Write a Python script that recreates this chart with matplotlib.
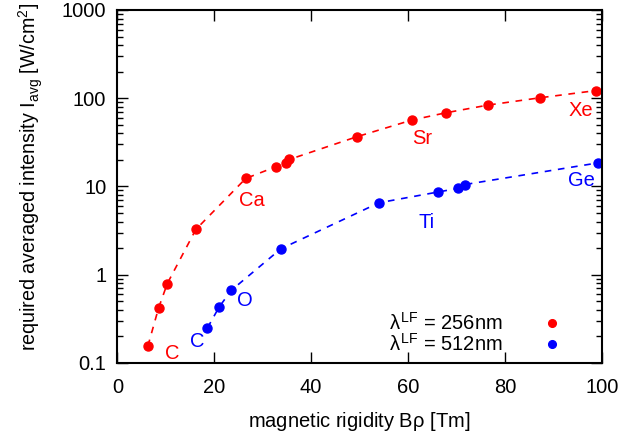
import matplotlib
matplotlib.use("Agg")
import matplotlib.pyplot as plt
from matplotlib.ticker import FixedLocator, LogLocator, NullFormatter

plt.rcParams["font.family"] = ["Liberation Sans", "DejaVu Sans"]
plt.rcParams["mathtext.fontset"] = "custom"
plt.rcParams["mathtext.rm"] = "Liberation Sans"
plt.rcParams["mathtext.it"] = "Liberation Sans"

# lambda_LF = 256 nm
b_256 = [6.3, 8.5, 10.3, 16.2, 26.5, 32.7, 34.8, 35.5, 49.4, 60.8, 67.8, 76.5, 87.2, 98.8]
i_256 = [0.155, 0.417, 0.79, 3.25, 12.3, 16.7, 18.5, 20.2, 36.5, 56.5, 68.3, 83.5, 101, 122]

# lambda_LF = 512 nm
b_512 = [18.6, 21.0, 23.5, 33.75, 54.0, 66.1, 70.3, 71.75, 99.3]
i_512 = [0.249, 0.428, 0.662, 1.96, 6.52, 8.62, 9.49, 10.5, 18.5]

labels_256 = [("C", 11.3, 0.129), ("Ca", 27.8, 7.0), ("Sr", 63.0, 35.3), ("Xe", 95.6, 73.3)]
labels_512 = [("C", 16.4, 0.176), ("O", 26.3, 0.514), ("Ti", 63.9, 3.94), ("Ge", 95.8, 11.8)]

red = "#ff0000"
blue = "#0000ff"
fs = 14.5

fig = plt.figure(figsize=(6.21, 4.34), dpi=100)
ax = fig.add_axes([0.189, 0.164, 0.780, 0.813])

ax.plot(b_256, i_256, color=red, lw=1.2, ls=(0, (4, 4)))
ax.plot(b_512, i_512, color=blue, lw=1.2, ls=(0, (4, 4)))
ax.plot(b_256, i_256, "o", color=red, ms=6.5, label=r"$\lambda^{\rm LF}$ = 256nm")
ax.plot(b_512, i_512, "o", color=blue, ms=6.5, label=r"$\lambda^{\rm LF}$ = 512nm")

for name, x, y in labels_256:
    ax.text(x, y, name, color=red, fontsize=fs, ha="center", va="center")
for name, x, y in labels_512:
    ax.text(x, y, name, color=blue, fontsize=fs, ha="center", va="center")

ax.set_yscale("log")
ax.set_xlim(0, 100)
ax.set_ylim(0.1, 1000)
ax.xaxis.set_major_locator(FixedLocator([0, 20, 40, 60, 80, 100]))
ax.yaxis.set_major_locator(FixedLocator([0.1, 1, 10, 100, 1000]))
ax.set_yticklabels(["0.1", "1", "10", "100", "1000"])
ax.yaxis.set_minor_locator(LogLocator(base=10, subs=range(2, 10)))
ax.yaxis.set_minor_formatter(NullFormatter())

ax.tick_params(which="both", direction="in", top=True, right=True, labelsize=fs)
ax.tick_params(axis="x", pad=11)
ax.tick_params(axis="y", pad=8)
ax.tick_params(which="major", length=8, width=1)
ax.tick_params(which="minor", length=4, width=1)
for s in ax.spines.values():
    s.set_linewidth(1.5)

ax.set_xlabel(r"magnetic rigidity B$\rho$ [Tm]", fontsize=fs, labelpad=9)
ax.set_ylabel(r"required averaged intensity I$_{\rm avg}$ [W/cm$^2$]", fontsize=14.2)
ax.yaxis.set_label_coords(-0.15, 0.528)

ax.legend(loc="lower right", frameon=False, fontsize=fs, markerfirst=False,
          handlelength=0.8, handletextpad=2.05, labelspacing=-0.05, markerscale=0.85,
          borderaxespad=0.0, bbox_to_anchor=(0.93, 0.0))

fig.savefig("out.png", dpi=100)
